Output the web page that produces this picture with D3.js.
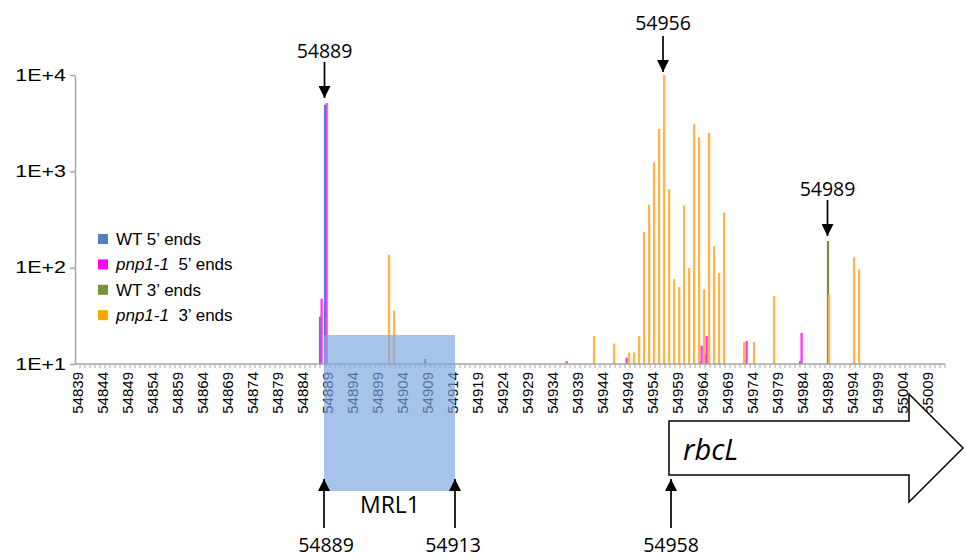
<!DOCTYPE html>
<html>
<head>
<meta charset="utf-8">
<script src="https://cdn.jsdelivr.net/npm/d3@7/dist/d3.min.js"></script>
<style>
  html, body { margin: 0; padding: 0; background: #fff; }
  svg { display: block; }
</style>
</head>
<body>
<svg id="chart" width="966" height="557"></svg>
<script>
// ---------------- DATA ----------------
const firstPos = 54839;
const lastPos = 55012;
const tickLabels = [54839, 54844, 54849, 54854, 54859, 54864, 54869, 54874, 54879, 54884,
  54889, 54894, 54899, 54904, 54909, 54914, 54919, 54924, 54929, 54934, 54939, 54944,
  54949, 54954, 54959, 54964, 54969, 54974, 54979, 54984, 54989, 54994, 54999, 55004, 55009];
const yTickValues = [10, 100, 1000, 10000];
const yTickLabels = ["1E+1", "1E+2", "1E+3", "1E+4"];

const seriesNames = ["WT 5\u2019 ends", "pnp1-1 5\u2019 ends", "WT 3\u2019 ends", "pnp1-1 3\u2019 ends"];

// [position, count]
const wt5 = [[54888, 31], [54889, 4900], [54909, 11.3], [54964, 10.7], [54965, 12.5], [54984, 10.7]];
const pnp5 = [[54888, 47.6], [54889, 5100], [54937, 10.7], [54949, 11.6], [54964, 15.5],
  [54965, 19.5], [54973, 17.3], [54984, 21]];
const wt3 = [[54989, 189]];
const pnp3 = [[54901, 136], [54902, 35.8], [54942, 19.5], [54946, 16.3], [54949, 13.2],
  [54950, 13.2], [54951, 19.5], [54952, 235], [54953, 448], [54954, 1243], [54955, 2754],
  [54956, 10000], [54957, 652], [54958, 76], [54959, 63], [54960, 440], [54961, 99],
  [54962, 3085], [54963, 2260], [54964, 59.6], [54965, 2506], [54966, 167], [54967, 88],
  [54968, 372], [54972, 16.8], [54974, 16.9], [54978, 51], [54989, 53], [54994, 128], [54995, 96]];

const annotTop = [54889, 54956, 54989];
const mrlStart = 54889, mrlEnd = 54913, rbcLStart = 54958;

// ---------------- STYLE / LAYOUT ----------------
const colors = ["#4f81bd", "#ff00ff", "#77933c", "#ffa500"];
const barColors = ["#4f81bd", "#ff33ff", "#77933c", "#ffb44a"];
const barOffsets = [-2.4, -0.9, 0.5, 1.6];
const barWidth = 2.3;

const plot = { left: 75, right: 945, top: 75, bottom: 364 };
const axisColor = "#a6a6a6";
const chartFont = "'Liberation Sans', Arial, sans-serif";
const annotFont = "'Open Sans', sans-serif";

const svg = d3.select("#chart");

const positions = d3.range(firstPos, lastPos + 1);
const x = d3.scaleBand().domain(positions).range([plot.left, plot.right]).padding(0);
const xc = p => x(p) + x.bandwidth() / 2;
const y = d3.scaleLog().domain([10, 10000]).range([plot.bottom, plot.top]);

// ---------------- BARS ----------------
const allSeries = [wt5, pnp5, wt3, pnp3];
allSeries.forEach((s, i) => {
  svg.append("g").selectAll("rect").data(s).join("rect")
    .attr("x", d => xc(d[0]) + barOffsets[i] - barWidth / 2)
    .attr("y", d => y(d[1]))
    .attr("width", barWidth)
    .attr("height", d => y(10) - y(d[1]))
    .attr("fill", barColors[i]);
});

// ---------------- AXES ----------------
const yLabelStretch = 1.3;
const yAxis = d3.axisLeft(y).tickValues(yTickValues)
  .tickFormat((d, i) => yTickLabels[i]).tickSize(5).tickSizeOuter(0);
const gy = svg.append("g").attr("transform", `translate(${plot.left},0)`).call(yAxis);
gy.select(".domain").attr("stroke", axisColor).attr("stroke-width", 1.5);
gy.selectAll(".tick line").attr("stroke", axisColor).attr("stroke-width", 1.5);
gy.selectAll(".tick text").attr("font-family", chartFont).attr("font-size", 16.5)
  .attr("fill", "#000").attr("x", -9 / yLabelStretch)
  .attr("transform", `scale(${yLabelStretch},1)`);

const gx = svg.append("g");
gx.append("line").attr("x1", plot.left).attr("x2", plot.right)
  .attr("y1", plot.bottom).attr("y2", plot.bottom)
  .attr("stroke", axisColor).attr("stroke-width", 1.5);
gx.selectAll("line.tk").data(positions).join("line").attr("class", "tk")
  .attr("x1", d => x(d) + x.bandwidth()).attr("x2", d => x(d) + x.bandwidth())
  .attr("y1", plot.bottom).attr("y2", plot.bottom + 4)
  .attr("stroke", axisColor).attr("stroke-width", 1);
gx.selectAll("text").data(tickLabels).join("text")
  .attr("transform", d => `translate(${xc(d) + 5.3},${plot.bottom + 8}) rotate(-90)`)
  .attr("text-anchor", "end")
  .attr("font-family", chartFont).attr("font-size", 15)
  .attr("fill", "#000")
  .text(d => d);

// ---------------- LEGEND ----------------
const leg = svg.append("g").attr("transform", "translate(98,239)");
seriesNames.forEach((name, i) => {
  const g = leg.append("g").attr("transform", `translate(0,${i * 25.4})`);
  g.append("rect").attr("x", 0).attr("y", -5).attr("width", 10).attr("height", 10).attr("fill", colors[i]);
  const t = g.append("text").attr("x", 18).attr("y", 6)
    .attr("font-family", chartFont).attr("font-size", 17).attr("fill", "#000");
  if (name.startsWith("pnp1-1")) {
    t.append("tspan").attr("font-style", "italic").text("pnp1-1");
    t.append("tspan").text("\u00a0 " + name.slice(7));
  } else {
    t.text(name);
  }
});

// ---------------- ANNOTATIONS ----------------
svg.append("defs").append("marker")
  .attr("id", "ah").attr("viewBox", "0 0 12 12").attr("refX", 12).attr("refY", 6)
  .attr("markerWidth", 13).attr("markerHeight", 12).attr("markerUnits", "userSpaceOnUse")
  .attr("orient", "auto")
  .append("path").attr("d", "M0,0 L12,6 L0,12 Z").attr("fill", "#000");

function arrow(x0, y0, x1, y1) {
  svg.append("line").attr("x1", x0).attr("y1", y0).attr("x2", x1).attr("y2", y1)
    .attr("stroke", "#000").attr("stroke-width", 1.7).attr("marker-end", "url(#ah)");
}
function label(txt, xx, yy, size, italic) {
  svg.append("text").attr("x", xx).attr("y", yy).attr("text-anchor", "middle")
    .attr("font-family", annotFont).attr("font-size", size)
    .attr("font-style", italic ? "italic" : "normal").attr("fill", "#000").text(txt);
}

const topLayout = [
  { textY: 58, y0: 62, y1: 98, dx: -3 },
  { textY: 30, y0: 36, y1: 72, dx: 0.5 },
  { textY: 196, y0: 200, y1: 236, dx: 0 }
];
annotTop.forEach((p, i) => {
  const L = topLayout[i];
  label(String(p), xc(p) + L.dx, L.textY, 19.5);
  arrow(xc(p) + L.dx, L.y0, xc(p) + L.dx, L.y1);
});

const mrlX0 = 324, mrlX1 = 455;
svg.append("rect").attr("x", mrlX0).attr("y", 335).attr("width", mrlX1 - mrlX0).attr("height", 156)
  .attr("fill", "#7fa6de").attr("opacity", 0.68);
label("MRL1", 390, 513, 23);
arrow(mrlX0, 528, mrlX0, 479);
arrow(mrlX1, 528, mrlX1, 479);
label(String(mrlStart), mrlX0 + 2, 552, 19.5);
label(String(mrlEnd), mrlX1 - 2, 552, 19.5);

const gx0 = 669, gShaftEnd = 909, gTip = 963, gTop = 421, gBot = 475, gHeadTop = 394, gHeadBot = 502;
const gm = (gTop + gBot) / 2;
svg.append("path")
  .attr("d", `M${gx0},${gTop} L${gShaftEnd},${gTop} L${gShaftEnd},${gHeadTop} L${gTip},${gm} L${gShaftEnd},${gHeadBot} L${gShaftEnd},${gBot} L${gx0},${gBot} Z`)
  .attr("fill", "#fff").attr("stroke", "#000").attr("stroke-width", 1.5);
svg.append("text").attr("x", 683).attr("y", 460).attr("font-family", annotFont)
  .attr("font-size", 29).attr("font-style", "italic").attr("fill", "#000").text("rbcL");
arrow(671, 528, 671, 479);
label(String(rbcLStart), 671, 552, 19.5);
</script>
</body>
</html>
